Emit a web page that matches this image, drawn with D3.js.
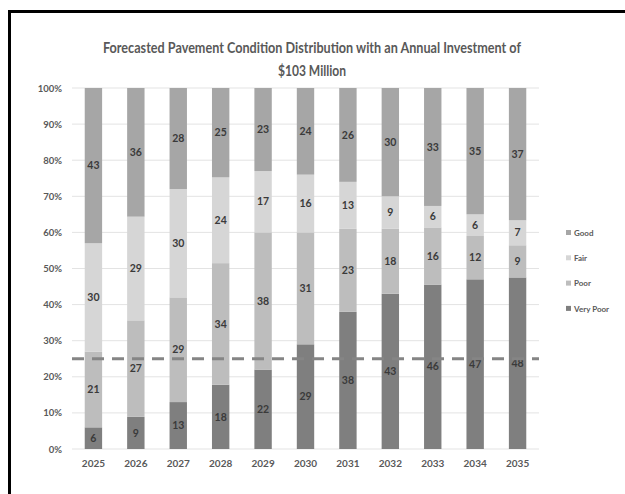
<!DOCTYPE html>
<html>
<head>
    <script src="https://d3js.org/d3.v7.min.js"></script>
    <style>
        body { margin: 0; background: #fff; }
        text { font-family: Lato, "Open Sans", sans-serif; font-weight: bold; }
    </style>
</head>
<body>
    <div id="chart"></div>
    <script>
        // data
        var years = ["2025", "2026", "2027", "2028", "2029", "2030", "2031", "2032", "2033", "2034", "2035"];
        var veryPoor = [6, 9, 13, 18, 22, 29, 38, 43, 46, 47, 48];
        var poor = [21, 27, 29, 34, 38, 31, 23, 18, 16, 12, 9];
        var fair = [30, 29, 30, 24, 17, 16, 13, 9, 6, 6, 7];
        var good = [43, 36, 28, 25, 23, 24, 26, 30, 33, 35, 37];
        var yTicks = [0, 0.1, 0.2, 0.3, 0.4, 0.5, 0.6, 0.7, 0.8, 0.9, 1];
        var target = 0.25;

        var keys = ["Very Poor", "Poor", "Fair", "Good"];
        var colors = { "Very Poor": "#7f7f7f", "Poor": "#bdbdbd", "Fair": "#d6d6d6", "Good": "#a6a6a6" };

        var rows = years.map(function (y, i) {
            return { year: y, "Very Poor": veryPoor[i], "Poor": poor[i], "Fair": fair[i], "Good": good[i] };
        });

        var W = 625, H = 494;
        var margin = { top: 88, left: 72, right: 86, bottom: 45 };
        var width = W - margin.left - margin.right,
            height = H - margin.top - margin.bottom;

        var svg = d3.select("#chart").append("svg")
            .attr("width", W).attr("height", H);

        // outer frame
        svg.append("rect")
            .attr("x", 9.5).attr("y", 11.5)
            .attr("width", 700).attr("height", 600)
            .attr("fill", "none").attr("stroke", "#000").attr("stroke-width", 3);

        svg.append("text")
            .attr("x", 312).attr("y", 53)
            .attr("text-anchor", "middle")
            .attr("textLength", 418).attr("lengthAdjust", "spacingAndGlyphs")
            .style("font-size", "15.5px").attr("fill", "#595959")
            .text("Forecasted Pavement Condition Distribution with an Annual Investment of");
        svg.append("text")
            .attr("x", 312).attr("y", 76)
            .attr("text-anchor", "middle")
            .attr("textLength", 68).attr("lengthAdjust", "spacingAndGlyphs")
            .style("font-size", "15.5px").attr("fill", "#595959")
            .text("$103 Million");

        var g = svg.append("g")
            .attr("transform", "translate(" + margin.left + "," + margin.top + ")");

        var x = d3.scaleBand().domain(years).range([0, width]).paddingInner(0.59).paddingOuter(0.3);
        var y = d3.scaleLinear().domain([0, 1]).range([height, 0]);

        // gridlines
        g.selectAll(".grid").data(yTicks).enter().append("line")
            .attr("x1", 0).attr("x2", width)
            .attr("y1", function (d) { return y(d); })
            .attr("y2", function (d) { return y(d); })
            .attr("stroke", "#e3e3e3").attr("stroke-width", 1);

        var yAxis = g.append("g")
            .call(d3.axisLeft(y).tickValues(yTicks).tickFormat(d3.format(".0%")).tickSize(0).tickPadding(10));
        yAxis.select(".domain").remove();
        yAxis.selectAll("text").style("font-size", "9.5px").attr("fill", "#595959")
            .style("font-family", "Lato, sans-serif");

        var xAxis = g.append("g")
            .attr("transform", "translate(0," + height + ")")
            .call(d3.axisBottom(x).tickSize(0).tickPadding(11));
        xAxis.select(".domain").remove();
        xAxis.selectAll("text").style("font-size", "10px").attr("fill", "#595959")
            .style("font-family", "Lato, sans-serif");

        var stacked = d3.stack().keys(keys).offset(d3.stackOffsetExpand)(rows);

        var layers = g.selectAll(".layer").data(stacked).enter().append("g")
            .attr("fill", function (d) { return colors[d.key]; });

        layers.selectAll("rect").data(function (d) { return d; }).enter().append("rect")
            .attr("x", function (d) { return x(d.data.year); })
            .attr("width", x.bandwidth())
            .attr("y", function (d) { return y(d[1]); })
            .attr("height", function (d) { return y(d[0]) - y(d[1]); });

        // value labels
        stacked.forEach(function (layer) {
            g.selectAll(null).data(layer).enter().append("text")
                .attr("x", function (d) { return x(d.data.year) + x.bandwidth() / 2; })
                .attr("y", function (d) { return y((d[0] + d[1]) / 2); })
                .attr("dy", "0.35em")
                .attr("text-anchor", "middle")
                .style("font-size", "10.5px").attr("fill", "#3a3a3a")
                .text(function (d) { return d.data[layer.key]; });
        });

        // 25% target line
        g.append("line")
            .attr("x1", 0).attr("x2", width)
            .attr("y1", y(target)).attr("y2", y(target))
            .attr("stroke", "#858585").attr("stroke-width", 3)
            .attr("stroke-dasharray", "12,8");

        // legend
        var legend = svg.append("g").attr("transform", "translate(566,233)");
        keys.slice().reverse().forEach(function (k, i) {
            var row = legend.append("g").attr("transform", "translate(0," + (i * 25.3) + ")");
            row.append("rect").attr("x", 0).attr("y", -3).attr("width", 5).attr("height", 5)
                .attr("fill", colors[k]);
            row.append("text").attr("x", 8).attr("y", 0).attr("dy", "0.35em")
                .style("font-size", "8px").attr("fill", "#595959").text(k);
        });
    </script>
</body>
</html>
